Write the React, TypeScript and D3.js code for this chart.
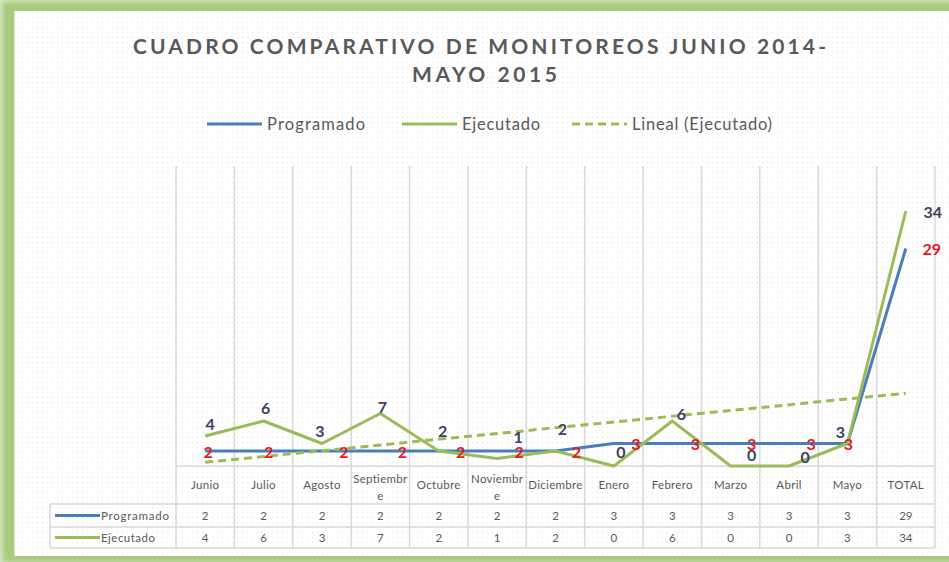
import * as d3 from "d3";

const CATEGORIES = ["Junio", "Julio", "Agosto", "Septiembre", "Octubre", "Noviembre", "Diciembre", "Enero", "Febrero", "Marzo", "Abril", "Mayo", "TOTAL"];
const PROGRAMADO = [2, 2, 2, 2, 2, 2, 2, 3, 3, 3, 3, 3, 29];
const EJECUTADO = [4, 6, 3, 7, 2, 1, 2, 0, 6, 0, 0, 3, 34];
// Lineal (Ejecutado): trend value read at first and last category
const TREND_ENDS = [0.5, 9.7];
const Y_DOMAIN = [0, 40];

const W = 949, H = 562;
const PLOT = { left: 176, right: 935, top: 166, bottom: 466 };
const TABLE = { left: 50, rowCat: 504, rowProg: 527, bottom: 548 };

const C = {
  blue: "#4a7ebb", green: "#9bbb59", grid: "#d9d9d9", text: "#595959",
  purple: "#3f3d63", red: "#e3191b", frame: "#a8cb7e",
};
const FONT = "Lato, 'Open Sans', sans-serif";
const CAT_FONT = 11.5;

// data label nudges (px) – layout only
const EJ_NUDGE: [number, number][] = [[5, -12], [2, -13], [-2, -12], [2, -6], [4, -20], [21, -21], [7, -22], [7, -14], [9, -7], [21, -11], [16, -9], [-7, -11], [27, 1]];
const PR_NUDGE = [3, 5, 22, 22, 22, 22, 21, 22, 23, 21, 22, 1, 26];

// break a category label by characters when wider than the column (like Excel does)
function wrapLabel(s: string, maxW: number): string[] {
  const ctx = document.createElement("canvas").getContext("2d");
  if (!ctx) return [s];
  ctx.font = `${CAT_FONT}px Lato, sans-serif`;
  const width = (t: string) => ctx.measureText(t).width + t.length * 0.3;
  if (width(s) <= maxW) return [s];
  let cut = s.length;
  while (cut > 1 && width(s.slice(0, cut)) > maxW) cut--;
  return [s.slice(0, cut), s.slice(cut)];
}

export default function App() {
  const x = d3.scaleBand<string>().domain(CATEGORIES).range([PLOT.left, PLOT.right]);
  const y = d3.scaleLinear().domain(Y_DOMAIN).range([PLOT.bottom, PLOT.top]);
  const cx = (c: string) => (x(c) as number) + x.bandwidth() / 2;

  const line = d3.line<number>().x((_, i) => cx(CATEGORIES[i])).y(d => y(d));
  const first = CATEGORIES[0], last = CATEGORIES[CATEGORIES.length - 1];

  const bounds = CATEGORIES.map(c => x(c) as number).concat([PLOT.right]);

  const legend = [
    { label: "Programado", x: 207, len: 98, color: C.blue, dash: undefined },
    { label: "Ejecutado", x: 402, len: 78, color: C.green, dash: undefined },
    { label: "Lineal (Ejecutado)", x: 572, len: 140, color: C.green, dash: "8,5" },
  ];

  return (
    <div style={{ position: "absolute", left: 0, top: 0 }}>
      <svg width={W} height={H} style={{ display: "block", fontFamily: FONT }}>
        <defs>
          <pattern id="dots" width="5" height="5" patternUnits="userSpaceOnUse">
            <circle cx="2.5" cy="2.5" r="0.65" fill="#e8e8e8" />
          </pattern>
          <filter id="soft" x="-5%" y="-5%" width="110%" height="110%">
            <feGaussianBlur stdDeviation="2" />
          </filter>
        </defs>

        {/* frame */}
        <rect x={0} y={0} width={W} height={H} fill="#d3e5bf" />
        <rect x={3} y={2} width={W + 10} height={H - 2} fill={C.frame} filter="url(#soft)" />
        <rect x={14} y={11} width={W} height={545} fill="#ffffff" />
        <rect x={14} y={11} width={W} height={545} fill="url(#dots)" />
        <line x1={14.5} x2={14.5} y1={11} y2={556} stroke="#dfe7d4" />

        {/* title */}
        <text x={479.5} y={54} textAnchor="middle" fontSize={21} fontWeight={700} fill={C.text}
          textLength={693} lengthAdjust="spacing">CUADRO COMPARATIVO DE MONITOREOS JUNIO 2014-</text>
        <text x={484.5} y={82} textAnchor="middle" fontSize={21} fontWeight={700} fill={C.text}
          textLength={145} lengthAdjust="spacing">MAYO 2015</text>

        {/* legend */}
        {legend.map(l => (
          <g key={l.label}>
            <line x1={l.x} x2={l.x + 55} y1={124} y2={124} stroke={l.color} strokeWidth={3} strokeDasharray={l.dash} />
            <text x={l.x + 60} y={130} fontSize={16.5} fill={C.text} textLength={l.len} lengthAdjust="spacing">{l.label}</text>
          </g>
        ))}

        {/* vertical grid / table columns */}
        {bounds.map((b, i) => (
          <line key={i} x1={b} x2={b} y1={PLOT.top} y2={TABLE.bottom} stroke={C.grid} strokeWidth={1.5} />
        ))}
        <line x1={PLOT.left} x2={PLOT.right} y1={PLOT.bottom} y2={PLOT.bottom} stroke={C.grid} strokeWidth={1.5} />
        {[TABLE.rowCat, TABLE.rowProg, TABLE.bottom].map(r => (
          <line key={r} x1={TABLE.left} x2={PLOT.right} y1={r} y2={r} stroke={C.grid} strokeWidth={1.5} />
        ))}
        <line x1={TABLE.left} x2={TABLE.left} y1={TABLE.rowCat} y2={TABLE.bottom} stroke={C.grid} strokeWidth={1.5} />

        {/* category row */}
        {CATEGORIES.map(c => {
          const lines = wrapLabel(c, x.bandwidth() - 1.5);
          return (
            <text key={c} x={cx(c)} textAnchor="middle" fontSize={CAT_FONT} fill={C.text} letterSpacing={0.3}>
              {lines.map((t, j) => (
                <tspan key={j} x={cx(c)} y={lines.length > 1 ? 483 + j * 17 : 489}>{t}</tspan>
              ))}
            </text>
          );
        })}

        {/* table rows */}
        {[{ label: "Programado", vals: PROGRAMADO, color: C.blue, yy: 515.5, len: 68 },
          { label: "Ejecutado", vals: EJECUTADO, color: C.green, yy: 537.5, len: 54 }].map(r => (
          <g key={r.label}>
            <line x1={55} x2={100} y1={r.yy} y2={r.yy} stroke={r.color} strokeWidth={3} />
            <text x={101} y={r.yy} dy="0.35em" fontSize={11.5} fill={C.text} textLength={r.len} lengthAdjust="spacing">{r.label}</text>
            {r.vals.map((v, i) => (
              <text key={i} x={cx(CATEGORIES[i])} y={r.yy} dy="0.35em" textAnchor="middle" fontSize={11.5} fill={C.text}>{v}</text>
            ))}
          </g>
        ))}

        {/* series */}
        <path d={line(PROGRAMADO) || ""} fill="none" stroke={C.blue} strokeWidth={3} strokeLinejoin="round" />
        <path d={line(EJECUTADO) || ""} fill="none" stroke={C.green} strokeWidth={3} strokeLinejoin="round" />
        <line x1={cx(first)} x2={cx(last)} y1={y(TREND_ENDS[0])} y2={y(TREND_ENDS[1])}
          stroke={C.green} strokeWidth={3} strokeDasharray="8,5" />

        {/* data labels */}
        {EJECUTADO.map((v, i) => (
          <text key={"e" + i} x={cx(CATEGORIES[i]) + EJ_NUDGE[i][0]} y={y(v) + EJ_NUDGE[i][1]} dy="0.36em"
            textAnchor="middle" fontSize={16} fontWeight={700} fill={C.purple}>{v}</text>
        ))}
        {PROGRAMADO.map((v, i) => (
          <text key={"p" + i} x={cx(CATEGORIES[i]) + PR_NUDGE[i]} y={y(v) + 1} dy="0.36em"
            textAnchor="middle" fontSize={16} fontWeight={700} fill={C.red}>{v}</text>
        ))}
      </svg>
    </div>
  );
}
